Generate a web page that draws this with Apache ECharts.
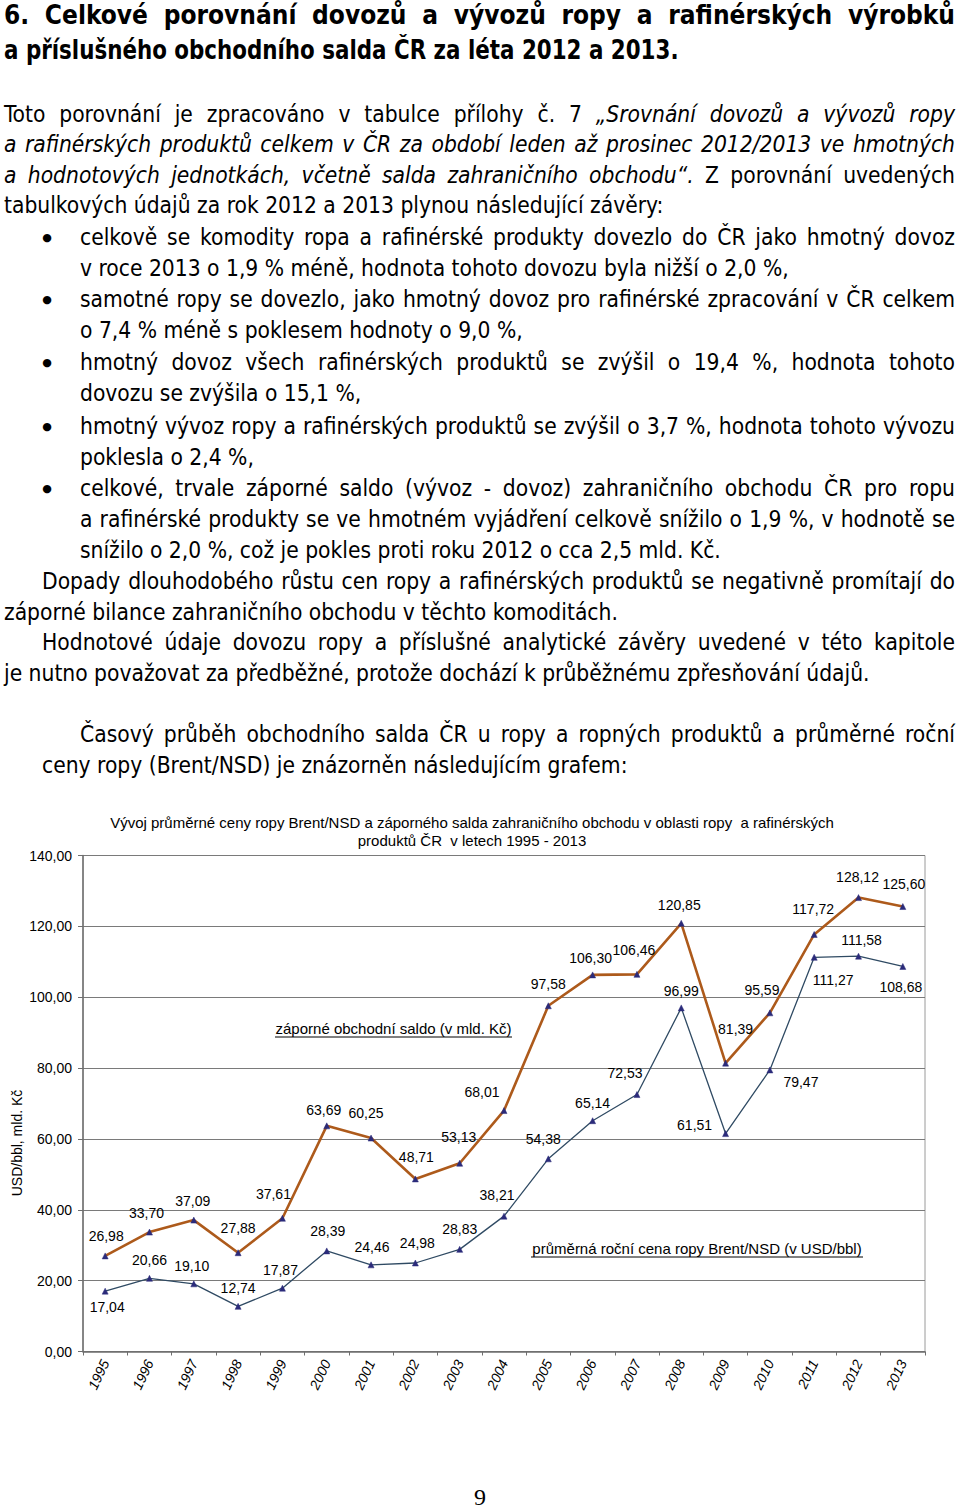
<!DOCTYPE html>
<html>
<head>
<meta charset="utf-8">
<script src="https://cdn.jsdelivr.net/npm/echarts@6/dist/echarts.min.js"></script>
<style>
  html, body { margin:0; padding:0; background:#fff; }
  body { width:960px; height:1509px; position:relative; overflow:hidden; color:#000;
         font-family:"DejaVu Sans Condensed","Open Sans",sans-serif; }
  .ln { position:absolute; white-space:nowrap; font-size:22.6px; line-height:31px; height:31px; }
  .j { text-align:justify; text-align-last:justify; }
  .h { position:absolute; white-space:nowrap; font-size:26px; line-height:35px; font-weight:bold; }
  .b { position:absolute; left:41px; width:12px; text-align:center; font-size:11px; line-height:31px; height:31px;
       font-family:"DejaVu Sans",sans-serif; }
  #chart { position:absolute; left:0; top:795px; width:944px; height:620px; }
  #pg { position:absolute; left:470px; top:1482px; width:20px; text-align:center;
        font-family:"Liberation Serif","DejaVu Serif",serif; font-size:24px; line-height:30px; }
</style>
</head>
<body>
<div class="h j" style="left:4px;width:951px;top:-2px;">6. Celkové porovnání dovozů a vývozů ropy a rafinérských výrobků</div>
<div class="h" style="left:4px;top:33px;transform:scaleX(0.915);transform-origin:0 50%;">a příslušného obchodního salda ČR za léta 2012 a 2013.</div>

<div class="ln j" style="left:4px;width:951px;top:99px;">Toto porovnání je zpracováno v tabulce přílohy č. 7 <i>„Srovnání dovozů a vývozů ropy</i></div>
<div class="ln j" style="left:4px;width:951px;top:129px;"><i>a rafinérských produktů celkem v ČR za období leden až prosinec 2012/2013 ve hmotných</i></div>
<div class="ln j" style="left:4px;width:951px;top:160px;"><i>a hodnotových jednotkách, včetně salda zahraničního obchodu“.</i> Z porovnání uvedených</div>
<div class="ln" style="left:4px;top:190px;">tabulkových údajů za rok 2012 a 2013 plynou následující závěry:</div>

<div class="b" style="top:222px;">●</div>
<div class="ln j" style="left:80px;width:875px;top:222px;">celkově se komodity ropa a rafinérské produkty dovezlo do ČR jako hmotný dovoz</div>
<div class="ln" style="left:80px;top:253px;">v roce 2013 o 1,9 % méně, hodnota tohoto dovozu byla nižší o 2,0 %,</div>
<div class="b" style="top:284px;">●</div>
<div class="ln j" style="left:80px;width:875px;top:284px;">samotné ropy se dovezlo, jako hmotný dovoz pro rafinérské zpracování v ČR celkem</div>
<div class="ln" style="left:80px;top:315px;">o 7,4 % méně s poklesem hodnoty o 9,0 %,</div>
<div class="b" style="top:347px;">●</div>
<div class="ln j" style="left:80px;width:875px;top:347px;">hmotný dovoz všech rafinérských produktů se zvýšil o 19,4 %, hodnota tohoto</div>
<div class="ln" style="left:80px;top:378px;">dovozu se zvýšila o 15,1 %,</div>
<div class="b" style="top:411px;">●</div>
<div class="ln j" style="left:80px;width:875px;top:411px;">hmotný vývoz ropy a rafinérských produktů se zvýšil o 3,7 %, hodnota tohoto vývozu</div>
<div class="ln" style="left:80px;top:442px;">poklesla o 2,4 %,</div>
<div class="b" style="top:473px;">●</div>
<div class="ln j" style="left:80px;width:875px;top:473px;">celkové, trvale záporné saldo (vývoz - dovoz) zahraničního obchodu ČR pro ropu</div>
<div class="ln j" style="left:80px;width:875px;top:504px;">a rafinérské produkty se ve hmotném vyjádření celkově snížilo o 1,9 %, v hodnotě se</div>
<div class="ln" style="left:80px;top:535px;">snížilo o 2,0 %, což je pokles proti roku 2012 o cca 2,5 mld. Kč.</div>

<div class="ln j" style="left:42px;width:913px;top:566px;">Dopady dlouhodobého růstu cen ropy a rafinérských produktů se negativně promítají do</div>
<div class="ln" style="left:4px;top:597px;">záporné bilance zahraničního obchodu v těchto komoditách.</div>
<div class="ln j" style="left:42px;width:913px;top:627px;">Hodnotové údaje dovozu ropy a příslušné analytické závěry uvedené v této kapitole</div>
<div class="ln" style="left:4px;top:658px;">je nutno považovat za předběžné, protože dochází k průběžnému zpřesňování údajů.</div>

<div class="ln j" style="left:80px;width:875px;top:719px;">Časový průběh obchodního salda ČR u ropy a ropných produktů a průměrné roční</div>
<div class="ln" style="left:42px;top:750px;">ceny ropy (Brent/NSD) je znázorněn následujícím grafem:</div>

<div id="chart"></div>
<div id="pg">9</div>

<script>
// ---- data ----
const years = ['1995','1996','1997','1998','1999','2000','2001','2002','2003','2004',
               '2005','2006','2007','2008','2009','2010','2011','2012','2013'];
const saldo = [26.98, 33.70, 37.09, 27.88, 37.61, 63.69, 60.25, 48.71, 53.13, 68.01,
               97.58, 106.30, 106.46, 120.85, 81.39, 95.59, 117.72, 128.12, 125.60];
const brent = [17.04, 20.66, 19.10, 12.74, 17.87, 28.39, 24.46, 24.98, 28.83, 38.21,
               54.38, 65.14, 72.53, 96.99, 61.51, 79.47, 111.27, 111.58, 108.68];
const yTicks = [0, 20, 40, 60, 80, 100, 120, 140];
const titleText = 'Vývoj průměrné ceny ropy Brent/NSD a záporného salda zahraničního obchodu v oblasti ropy  a rafinérských\nproduktů ČR  v letech 1995 - 2013';
const saldoName = 'záporné obchodní saldo (v mld. Kč)';
const brentName = 'průměrná roční cena ropy Brent/NSD (v USD/bbl)';
const yName = 'USD/bbl, mld. Kč';

// ---- label placement (style only) ----
const saldoLabelOffsets = [[1,-20],[-3,-19],[-1,-19],[0,-25],[-9,-24],[-3,-16],[-5,-25],[1,-22],[-1,-26],[-22,-19],
                           [0,-22],[-2,-17],[-3,-24],[-2,-18],[10,-34],[-8,-23],[-1,-25],[-1,-21],[1,-23]];
const brentLabelOffsets = [[2,16],[0,-18],[-2,-18],[0,-18],[-2,-18],[1,-20],[1,-18],[2,-20],[0,-20],[-7,-21],
                           [-5,-20],[0,-18],[-12,-22],[0,-17],[-31,-9],[31,12],[19,23],[3,-16],[-2,21]];

const fmt = v => Number(v).toFixed(2).replace('.', ',');
const FONT = '"Liberation Sans", Arial, sans-serif';

function mkData(vals, offs) {
  return vals.map((v, i) => ({
    value: v,
    label: { offset: offs[i] }
  }));
}

const chart = echarts.init(document.getElementById('chart'), null, { renderer: 'svg' });
const Y0 = 795;
chart.setOption({
  animation: false,
  backgroundColor: '#fff',
  title: {
    text: titleText,
    left: 'center',
    top: 13,
    textStyle: { fontFamily: FONT, fontSize: 15, fontWeight: 'normal', color: '#000', lineHeight: 18 }
  },
  grid: { left: 83, right: 19, top: 60.5, bottom: 63.5, containLabel: false, outerBoundsMode: 'none',
          show: true, borderColor: '#9a9a9a', borderWidth: 1 },
  xAxis: {
    type: 'category',
    data: years,
    boundaryGap: true,
    axisLine: { lineStyle: { color: '#6e6e6e', width: 1.5 } },
    axisTick: { show: true, length: 4, lineStyle: { color: '#6e6e6e' } },
    axisLabel: { rotate: 65, margin: 9, fontFamily: FONT, fontSize: 14, fontStyle: 'italic', color: '#000' }
  },
  yAxis: {
    type: 'value',
    min: yTicks[0],
    max: yTicks[yTicks.length - 1],
    interval: 20,
    axisLine: { show: true, lineStyle: { color: '#6e6e6e', width: 1.5 } },
    axisTick: { show: true, length: 5, lineStyle: { color: '#6e6e6e' } },
    axisLabel: { margin: 11, fontFamily: FONT, fontSize: 14, color: '#000', formatter: fmt },
    splitLine: { show: true, lineStyle: { color: '#7a7a7a', width: 1.2 } }
  },
  graphic: [
    { type: 'text', x: 17, y: 1143 - Y0, rotation: Math.PI / 2,
      style: { text: yName, fontFamily: FONT, fontSize: 14, fill: '#000', align: 'center', verticalAlign: 'middle' } },
    { type: 'text', x: 393.5, y: 1028 - Y0,
      style: { text: saldoName, fontFamily: FONT, fontSize: 15, fill: '#000', align: 'center', verticalAlign: 'middle' } },
    { type: 'line', shape: { x1: 275, y1: 1037 - Y0, x2: 512, y2: 1037 - Y0 }, style: { stroke: '#000', lineWidth: 1 } },
    { type: 'text', x: 697, y: 1248 - Y0,
      style: { text: brentName, fontFamily: FONT, fontSize: 15, fill: '#000', align: 'center', verticalAlign: 'middle' } },
    { type: 'line', shape: { x1: 531, y1: 1257 - Y0, x2: 863, y2: 1257 - Y0 }, style: { stroke: '#000', lineWidth: 1 } }
  ],
  series: [
    {
      name: saldoName,
      type: 'line',
      data: mkData(saldo, saldoLabelOffsets),
      symbol: 'triangle', symbolSize: 6, showAllSymbol: true,
      lineStyle: { color: '#ad5a1b', width: 2.6 },
      itemStyle: { color: '#2b2b7a', borderColor: '#2b2b7a', borderWidth: 0.5 },
      label: { show: true, position: 'inside', color: '#000', fontFamily: FONT, fontSize: 14,
               formatter: p => fmt(p.value) },
      z: 3
    },
    {
      name: brentName,
      type: 'line',
      data: mkData(brent, brentLabelOffsets),
      symbol: 'triangle', symbolSize: 6, showAllSymbol: true,
      lineStyle: { color: '#2f4a63', width: 1.3 },
      itemStyle: { color: '#2b2b7a', borderColor: '#2b2b7a', borderWidth: 0.5 },
      label: { show: true, position: 'inside', color: '#000', fontFamily: FONT, fontSize: 14,
               formatter: p => fmt(p.value) },
      z: 2
    }
  ]
});
</script>
</body>
</html>
